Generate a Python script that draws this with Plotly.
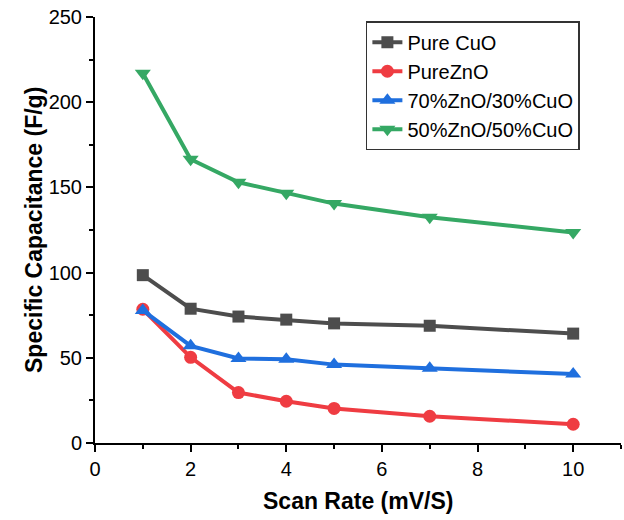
import plotly.graph_objects as go

scan_rate = [1, 2, 3, 4, 5, 7, 10]
pure_cuo = [98.5, 78.8, 74.2, 72.4, 70.2, 68.8, 64.2]
pure_zno = [78.5, 50.3, 29.6, 24.5, 20.3, 15.7, 11.0]
zno70_cuo30 = [77.8, 57.0, 49.6, 49.2, 46.0, 43.8, 40.5]
zno50_cuo50 = [217.0, 166.5, 153.0, 146.5, 140.5, 132.5, 123.5]

series = [
    ("Pure CuO", pure_cuo, "#4d4d4d", "square", 12),
    ("PureZnO", pure_zno, "#ef3c42", "circle", 13),
    ("70%ZnO/30%CuO", zno70_cuo30, "#1f6fde", "triangle-up", 14),
    ("50%ZnO/50%CuO", zno50_cuo50, "#35a864", "triangle-down", 14),
]

fig = go.Figure()
for name, vals, color, sym, ms in series:
    fig.add_trace(go.Scatter(
        x=scan_rate, y=vals, name=name, mode="lines+markers",
        line=dict(color=color, width=4),
        marker=dict(symbol=sym, size=ms, color=color),
    ))

fig.update_layout(
    width=624, height=520,
    margin=dict(l=95, r=3, t=17, b=77),
    plot_bgcolor="white", paper_bgcolor="white",
    font=dict(family="Arial, Liberation Sans, sans-serif", size=20, color="black"),
    legend=dict(
        x=0.515, y=0.99, xanchor="left", yanchor="top",
        bordercolor="#333", borderwidth=1.5, bgcolor="white",
        font=dict(size=20), tracegroupgap=0,
    ),
    xaxis=dict(
        range=[0, 11], tickvals=[0, 2, 4, 6, 8, 10], automargin=False,
        showline=True, linecolor="black", linewidth=2,
        ticks="outside", ticklen=7, tickwidth=2, tickcolor="black",
        minor=dict(tickvals=[1, 3, 5, 7, 9, 11], ticks="outside", ticklen=4, tickwidth=2, tickcolor="black"),
        showgrid=False, zeroline=False,
    ),
    yaxis=dict(
        range=[0, 250], tickvals=[0, 50, 100, 150, 200, 250], automargin=False,
        showline=True, linecolor="black", linewidth=2,
        ticks="outside", ticklen=7, tickwidth=2, tickcolor="black",
        minor=dict(tickvals=[25, 75, 125, 175, 225], ticks="outside", ticklen=4, tickwidth=2, tickcolor="black"),
        showgrid=False, zeroline=False,
    ),
    annotations=[
        dict(text="<b>Scan Rate (mV/S)</b>", xref="paper", yref="paper",
             x=0.5, y=-0.136, xanchor="center", yanchor="middle",
             showarrow=False, font=dict(size=23)),
        dict(text="<b>Specific Capacitance (F/g)</b>", xref="paper", yref="paper",
             x=-0.116, y=0.5, xanchor="center", yanchor="middle", textangle=-90,
             showarrow=False, font=dict(size=23)),
    ],
)

fig.write_html("out.html", config={"displayModeBar": False},
               post_script="document.body.style.margin='0';document.body.style.padding='0';")
